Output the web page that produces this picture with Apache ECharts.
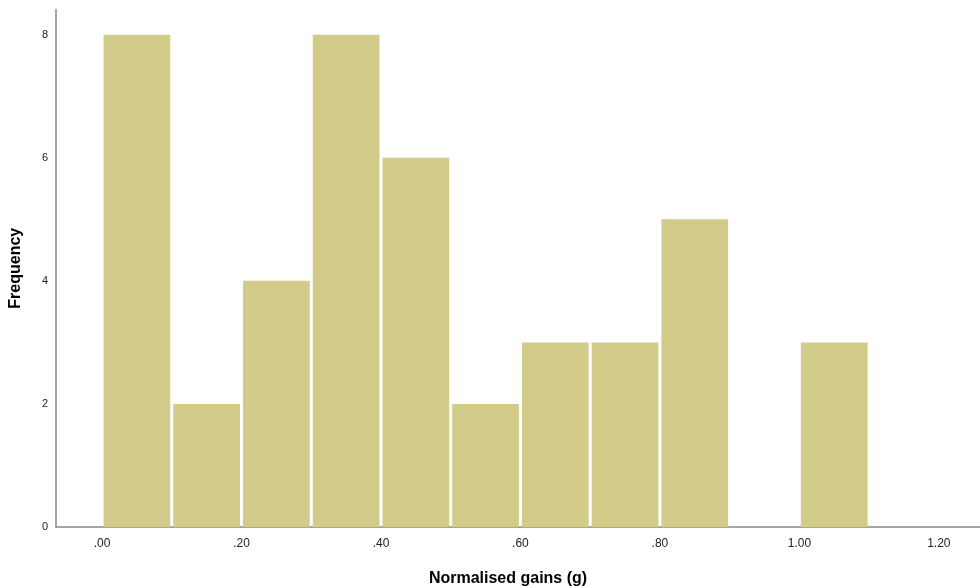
<!DOCTYPE html>
<html><head><meta charset="utf-8">
<script src="https://cdn.jsdelivr.net/npm/echarts@6/dist/echarts.min.js"></script>
<style>html,body{margin:0;padding:0;background:#fff}#c{width:980px;height:588px}</style>
</head><body><div id="c"></div>
<script>
const binStarts = [0.0, 0.1, 0.2, 0.3, 0.4, 0.5, 0.6, 0.7, 0.8, 0.9, 1.0];
const binEnds   = [0.1, 0.2, 0.3, 0.4, 0.5, 0.6, 0.7, 0.8, 0.9, 1.0, 1.1];
const counts    = [8, 2, 4, 8, 6, 2, 3, 3, 5, 0, 3];
const xTicks = [0, 0.2, 0.4, 0.6, 0.8, 1.0, 1.2];
const yTicks = [0, 2, 4, 6, 8];

const data = binStarts.map((s, i) => [s, binEnds[i], counts[i]]);
const chart = echarts.init(document.getElementById('c'));
const fmtX = v => { const s = Number(v).toFixed(2); return s.startsWith('0') ? s.slice(1) : s; };
chart.setOption({
  animation: false,
  grid: { left: 56, right: 0, top: 9.5, bottom: 61, containLabel: false, outerBoundsMode: 'none' },
  xAxis: {
    type: 'value', min: -0.066, max: 1.259,
    name: 'Normalised gains (g)', nameLocation: 'middle', nameGap: 44,
    nameTextStyle: { fontFamily: 'Liberation Sans', fontWeight: 'bold', fontSize: 16, color: '#000', padding: [0, 20, 0, 0] },
    axisLine: { onZero: false, lineStyle: { color: '#888', width: 1.5 } },
    axisTick: { show: false },
    splitLine: { show: false },
    axisLabel: { customValues: xTicks, formatter: fmtX, fontFamily: 'Liberation Sans', fontSize: 12, color: '#222', margin: 11 }
  },
  yAxis: {
    type: 'value', min: 0, max: 8.41,
    name: 'Frequency', nameLocation: 'middle', nameGap: 32,
    nameTextStyle: { fontFamily: 'Liberation Sans', fontWeight: 'bold', fontSize: 16, color: '#000' },
    axisLine: { show: true, onZero: false, lineStyle: { color: '#888', width: 1.5 } },
    axisTick: { show: false },
    splitLine: { show: false },
    axisLabel: { customValues: yTicks, fontFamily: 'Liberation Sans', fontSize: 11, color: '#222', margin: 8 }
  },
  series: [{
    type: 'custom',
    data: data,
    renderItem: function (params, api) {
      const p0 = api.coord([api.value(0), 0]);
      const p1 = api.coord([api.value(1), api.value(2)]);
      return {
        type: 'rect',
        shape: { x: p0[0] + 1.5, y: p1[1], width: p1[0] - p0[0] - 3, height: p0[1] - p1[1] },
        style: { fill: '#d3cb8a' }
      };
    }
  }]
});
</script></body></html>
